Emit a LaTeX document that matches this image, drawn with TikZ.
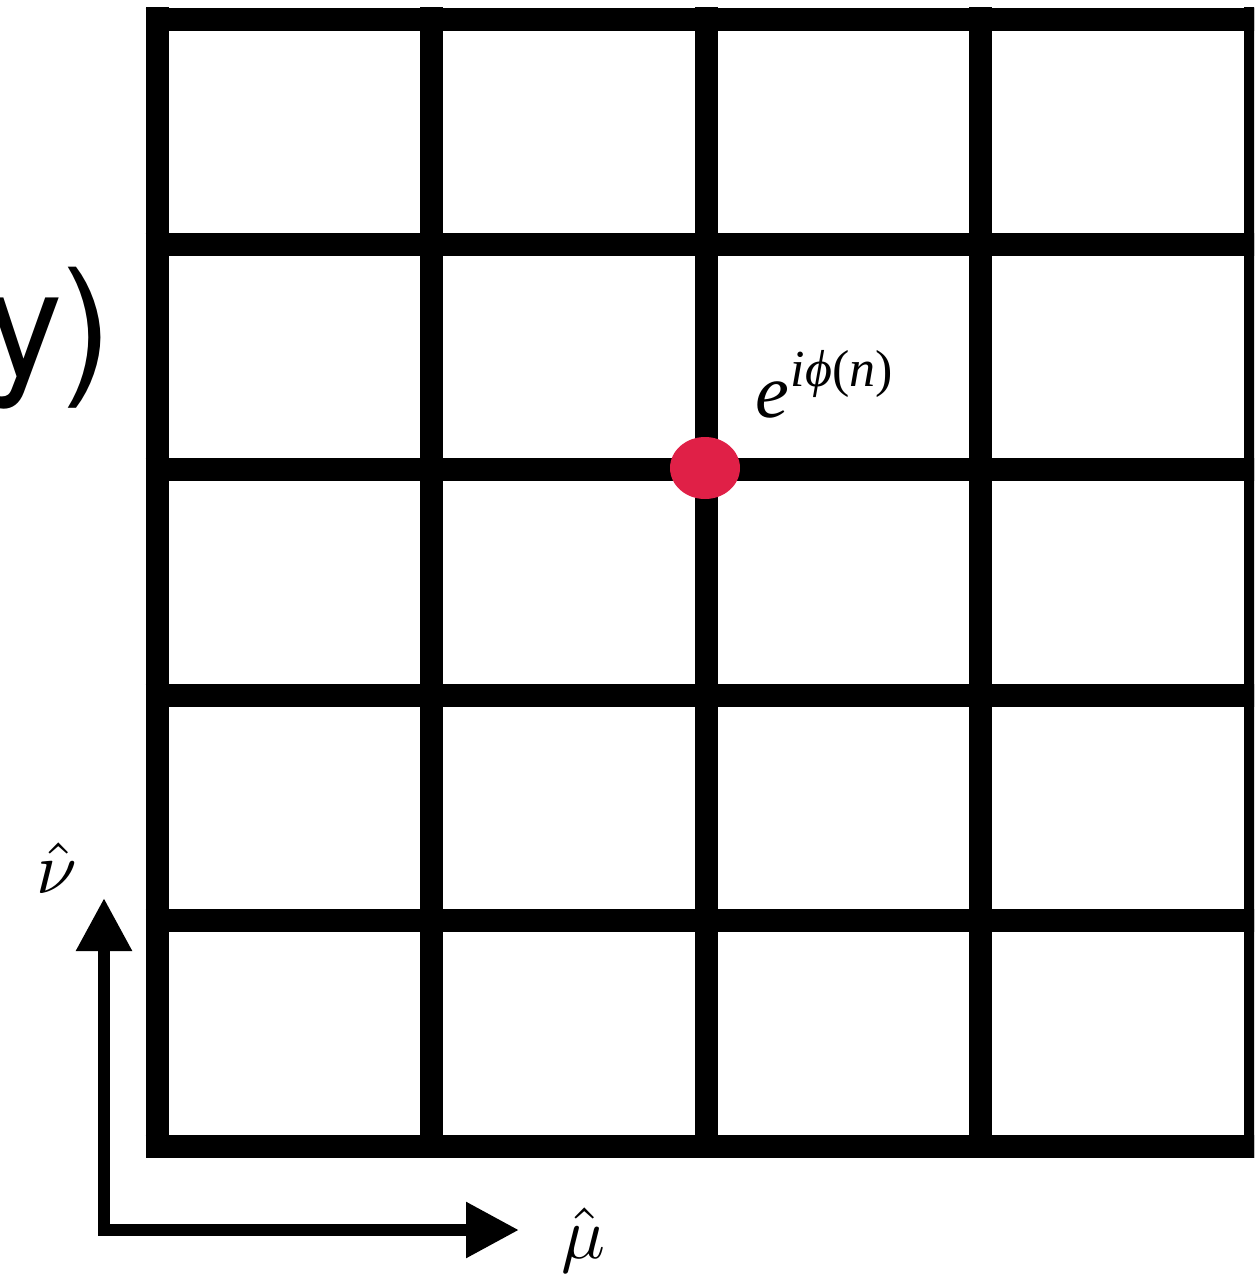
\documentclass[tikz,border=0pt]{standalone}
\usepackage{fontspec}
\usetikzlibrary{arrows.meta,shapes.geometric}
\newfontfamily\heros{TeX Gyre Heros}
\newfontfamily\tms{Liberation Serif}
\definecolor{dotred}{HTML}{E02047}
\begin{document}
\begin{tikzpicture}[x=1pt,y=-1pt,
  gridline/.style={line width=23pt,black},
  axisline/.style={line width=12pt,black,
    arrows={Triangle[length=53pt,width=53pt]-Triangle[length=53pt,width=53pt]}},
  mathlbl/.style={inner sep=0pt,scale=7.3},
  bigtxt/.style={inner sep=0pt,font=\heros\fontsize{150}{170}\selectfont}]
\useasboundingbox (0,0) rectangle (1254,1277);
\clip (0,0) rectangle (1254,1277);
\foreach \x in {157,431.5,706,980.5,1255}
  \draw[gridline] (\x,7) -- (\x,1158);
\foreach \y in {19,244,469,695,920,1146}
  \draw[gridline] (145.5,\y) -- (1270,\y);
\node[ellipse,fill=dotred,minimum width=70pt,minimum height=62pt,inner sep=0pt] (dot) at (705,468) {};
\node[inner sep=0pt,anchor=base west] (phase) at (755,417)
  {\tms\fontsize{76}{80}\selectfont\itshape e\kern2pt\raisebox{31pt}{\fontsize{52}{56}\selectfont\itshape iϕ\upshape(\itshape n\upshape)}};
\node[bigtxt,anchor=base east] (ylbl) at (113,376) {y)};
\coordinate (nutip) at (104,898);
\coordinate (corner) at (104,1230);
\coordinate (mutip) at (519,1230);
\draw[axisline] (nutip) -- (corner) -- (mutip);
\node[mathlbl] (nu) at (57,868) {$\hat{\nu}$};
\node[mathlbl] (mu) at (583,1240) {$\hat{\mu}$};
\end{tikzpicture}
\end{document}
